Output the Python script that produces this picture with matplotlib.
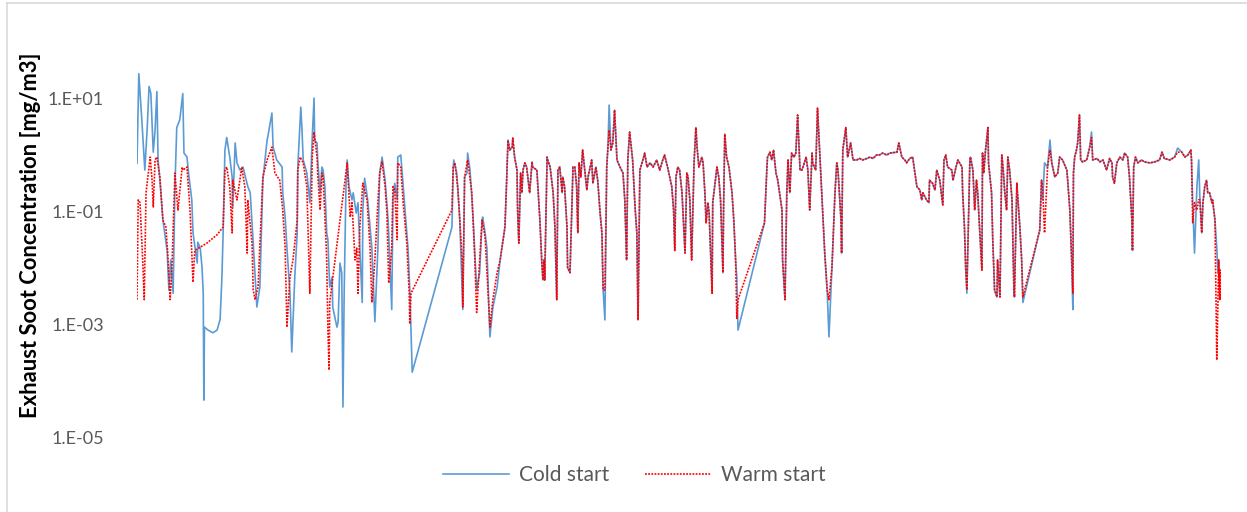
import matplotlib
matplotlib.use("Agg")
import matplotlib.pyplot as plt
from matplotlib.lines import Line2D

plt.rcParams['font.family'] = ['Lato', 'DejaVu Sans']

# ---- data: time [s] and exhaust soot concentration [mg/m3] ----
# part A: start of cycle (series differ)
cold_time_a = [0,3,5,8,13,17,20,23,27,30,
               33,35,38,43,46,50,53,56,60,63,
               66,71,76,78,83,86,91,93,100,101,
               105,108,110,111,112,118,126,133,138,141,
               143,146,149,154,158,159,163,166,171,176,
               184,188,193,199,204,209,216,217,224,226,
               232,241,242,246,249,254,257,262,266,267,
               272,274,276,282,287,291,294,295,299,300,
               304,307,309,312,315,317,320,324,325,332,
               334,337,340,342,344,347,349,352,357,359,
               364,367,370,374,375,378,383,390,395,400,
               403,407,412,417,423,425,428,432,433,438,
               442,448,450,453,457,523,525,526,531,536,
               541,544,548,549,553,558,564,569,573,574,
               578,581,586,591,598,603]
cold_soot_a = [0.70,27,13,4.1,0.53,3.0,16,12,1.1,2.7,
               13,0.80,0.35,0.069,0.041,0.020,0.0040,0.0136,0.0035,0.27,
               3.0,4.1,12,1.06,0.90,0.43,0.157,0.041,0.012,0.028,
               0.022,0.010,0.0035,4.5e-5,0.00088,0.00078,0.00070,0.00078,0.0012,0.0068,
               0.041,1.2,2.0,0.90,0.40,0.118,1.6,0.71,0.53,0.60,
               0.27,0.21,0.027,0.0020,0.0045,0.35,1.8,2.0,5.4,1.35,
               0.80,0.60,0.21,0.078,0.022,0.0035,0.00032,0.0068,0.041,0.60,
               6.9,2.7,0.80,0.47,0.14,2.0,10.0,1.8,1.6,0.80,
               0.21,0.60,0.53,0.27,0.041,0.031,0.0045,0.0068,0.0020,0.00088,
               0.0011,0.012,0.0081,3.4e-5,0.0035,0.27,0.80,0.27,0.157,0.21,
               0.092,0.14,0.022,0.0024,0.104,0.38,0.157,0.022,0.0011,0.022,
               0.47,0.90,0.35,0.069,0.0018,0.157,0.31,0.157,0.90,0.98,
               0.27,0.041,0.022,0.0040,0.00014,0.052,0.53,0.80,0.47,0.069,
               0.0018,0.40,0.47,1.06,0.53,0.078,0.0040,0.0081,0.069,0.078,
               0.041,0.022,0.00059,0.0020,0.0045,0.0136]

warm_time_a = [0,2,5,10,12,15,18,22,25,27,
               30,33,38,43,48,51,55,58,63,68,
               75,76,83,88,91,93,96,116,133,143,
               146,149,154,158,159,166,174,179,183,184,
               191,193,196,201,209,216,224,229,237,242,
               246,249,254,259,266,267,271,276,282,287,
               291,294,299,300,304,307,309,314,315,317,
               319,320,349,354,357,362,365,367,370,375,
               382,387,390,395,400,403,407,412,415,418,
               423,425,428,432,433,438,442,448,452,453,
               455,523,525,528,533,540,541,544,549,556,
               561,564,569,573,578,583,586,591,598,603]
warm_soot_a = [0.0027,0.157,0.14,0.010,0.0027,0.21,0.40,0.90,0.35,0.118,
               0.80,0.90,0.40,0.069,0.052,0.018,0.0027,0.010,0.47,0.104,
               0.60,0.53,0.60,0.104,0.018,0.0055,0.020,0.027,0.038,0.052,
               0.53,0.60,0.27,0.041,0.35,0.157,0.60,0.27,0.018,0.157,
               0.027,0.0040,0.0027,0.0045,0.40,0.80,1.35,0.47,0.35,0.104,
               0.022,0.00088,0.0068,0.0136,0.069,0.53,0.90,0.71,0.27,0.0035,
               0.90,2.5,0.90,0.47,0.104,0.47,0.40,0.027,0.0136,0.00078,
               0.000153,0.0024,0.71,0.078,0.14,0.0136,0.022,0.0035,0.052,0.31,
               0.157,0.022,0.0024,0.0136,0.14,0.47,0.74,0.27,0.092,0.0053,
               0.022,0.27,0.235,0.031,0.71,0.60,0.14,0.027,0.0035,0.0010,
               0.0035,0.104,0.60,0.71,0.235,0.0136,0.0020,0.40,0.80,0.21,
               0.0136,0.0016,0.0136,0.069,0.035,0.0035,0.00088,0.0027,0.0081,0.0136]

# part B: rest of cycle, same sample times for both series
time_b = [608,611,614,616,619,623,624,627,631,632,
          634,637,639,641,644,647,652,656,657,664,
          669,672,674,676,677,681,682,686,691,694,
          697,699,702,706,707,710,714,715,719,722,
          724,727,730,732,734,737,740,744,747,749,
          755,757,762,765,769,772,774,777,780,782,
          784,787,790,793,797,802,807,810,813,815,
          818,823,827,830,832,835,840,843,847,852,
          857,863,868,873,876,881,888,891,893,895,
          898,901,905,910,913,915,918,921,925,928,
          930,933,938,940,943,945,948,950,955,956,
          963,966,969,973,974,976,979,983,988,991,
          994,996,998,1042,1046,1047,1051,1054,1057,1061,
          1064,1071,1072,1076,1079,1081,1084,1087,1091,1094,
          1097,1101,1104,1106,1111,1114,1117,1121,1122,1127,
          1130,1134,1137,1139,1142,1146,1149,1154,1159,1162,
          1164,1169,1170,1172,1177,1180,1185,1189,1195,1200,
          1205,1212,1217,1222,1228,1233,1238,1245,1250,1262,
          1265,1270,1275,1278,1283,1288,1291,1295,1300,1303,
          1305,1311,1315,1316,1321,1325,1328,1333,1338,1340,
          1343,1346,1353,1355,1360,1363,1370,1371,1374,1376,
          1378,1383,1384,1388,1391,1394,1396,1399,1403,1404,
          1406,1409,1413,1414,1419,1421,1424,1428,1429,1433,
          1436,1438,1441,1444,1446,1449,1453,1456,1457,1461,
          1462,1466,1469,1471,1499,1502,1504,1507,1512,1516,
          1519,1524,1529,1532,1537,1544,1545,1549,1552,1554,
          1555,1557,1560,1562,1565,1567,1570,1577,1582,1585,
          1587,1594,1599,1604,1610,1615,1619,1620,1623,1627,
          1632,1637,1640,1645,1648,1652,1653,1655,1658,1662,
          1668,1673,1682,1690,1698,1702,1706,1715,1723,1728,
          1735,1740,1745,1750,1751,1753,1756,1760,1763,1765,
          1768,1770,1773,1776,1778,1781,1785,1786,1790,1793,
          1795,1796,1798]
cold_soot_b = [0.031,0.052,0.40,1.8,1.2,1.35,1.95,0.90,0.53,0.104,
               0.027,0.47,0.21,0.53,0.71,0.60,0.21,0.74,0.60,0.53,
               0.069,0.0136,0.0060,0.0136,0.0060,0.90,0.80,0.60,0.21,0.052,
               0.0027,0.53,0.60,0.21,0.40,0.27,0.052,0.010,0.0081,0.104,
               0.60,0.60,0.27,0.041,0.71,0.40,1.2,0.47,0.235,0.40,
               0.80,0.31,0.60,0.35,0.092,0.041,0.0040,0.00118,0.60,1.35,
               7.5,1.2,1.6,6.1,0.80,0.60,0.47,0.157,0.0136,0.80,
               2.5,0.80,0.118,0.041,0.00118,0.53,0.80,1.06,0.60,0.71,
               0.60,0.80,0.53,0.80,0.98,0.60,0.27,0.104,0.020,0.40,
               0.60,0.53,0.21,0.018,0.47,0.40,0.157,0.0136,0.71,3.0,
               1.35,0.60,0.90,0.71,0.21,0.062,0.14,0.092,0.0035,0.14,
               0.60,0.40,0.157,0.0081,0.104,2.3,0.90,0.60,0.21,0.069,
               0.0136,0.0068,0.00078,0.062,0.60,0.90,1.1,0.80,1.2,0.47,
               0.35,0.104,0.0136,0.0027,0.21,0.80,0.21,1.06,0.90,1.06,
               5.0,0.53,0.53,0.60,0.90,0.53,0.104,1.06,0.71,0.53,
               6.6,0.90,0.21,0.069,0.018,0.0040,0.00059,0.010,0.21,0.71,
               0.53,0.069,0.018,1.2,3.0,0.90,1.6,0.80,0.80,0.85,
               0.80,0.85,0.90,0.85,0.98,0.98,1.06,0.98,1.06,1.1,
               1.6,0.90,0.80,0.71,0.85,0.90,0.53,0.27,0.235,0.157,
               0.21,0.157,0.14,0.35,0.31,0.235,0.53,0.35,0.128,0.80,
               0.98,0.60,0.53,0.35,0.60,0.80,0.60,0.21,0.052,0.010,
               0.0035,0.80,0.90,0.53,0.104,0.35,0.21,0.052,0.0090,1.06,
               0.47,1.2,3.0,0.71,0.21,0.031,0.0040,0.0030,0.0136,0.0030,
               0.98,0.60,0.21,0.104,0.90,0.53,0.157,0.0045,0.0030,0.31,
               0.21,0.052,0.0136,0.0024,0.046,0.35,0.157,0.71,0.60,1.8,
               0.71,0.40,0.47,0.90,0.80,0.53,0.40,0.104,0.0136,0.0018,
               0.47,0.90,1.2,1.6,5.0,0.80,0.74,0.80,1.35,2.5,
               0.80,0.85,0.74,0.80,0.53,0.85,0.71,0.40,0.31,0.71,
               0.90,0.80,1.06,0.90,0.40,0.069,0.020,0.60,0.90,0.71,
               0.80,0.74,0.71,0.74,0.80,1.1,0.85,0.80,0.90,1.3,
               1.1,0.90,0.98,1.2,0.80,0.14,0.018,0.27,0.80,0.157,
               0.041,0.14,0.27,0.35,0.21,0.21,0.14,0.157,0.069,0.022,
               0.0081,0.0136,0.0068]
warm_soot_b = [0.031,0.052,0.40,1.8,1.2,1.35,1.95,0.90,0.53,0.104,
               0.027,0.47,0.21,0.53,0.71,0.60,0.21,0.74,0.60,0.53,
               0.069,0.0136,0.0060,0.0136,0.0060,0.90,0.80,0.60,0.21,0.052,
               0.0027,0.53,0.60,0.21,0.40,0.27,0.052,0.010,0.0081,0.104,
               0.60,0.60,0.27,0.041,0.71,0.40,1.2,0.47,0.235,0.40,
               0.80,0.31,0.60,0.35,0.092,0.041,0.0040,0.0040,0.60,1.35,
               2.7,1.2,1.6,6.1,0.80,0.60,0.47,0.157,0.0136,0.80,
               2.5,0.80,0.118,0.041,0.00118,0.53,0.80,1.06,0.60,0.71,
               0.60,0.80,0.53,0.80,0.98,0.60,0.27,0.104,0.020,0.40,
               0.60,0.53,0.21,0.018,0.47,0.40,0.157,0.0136,0.71,3.0,
               1.35,0.60,0.90,0.71,0.21,0.062,0.14,0.092,0.0035,0.14,
               0.60,0.40,0.157,0.0081,0.104,2.3,0.90,0.60,0.21,0.069,
               0.0136,0.00126,0.0027,0.062,0.60,0.90,1.1,0.80,1.2,0.47,
               0.35,0.104,0.0136,0.0027,0.21,0.80,0.21,1.06,0.90,1.06,
               5.0,0.53,0.53,0.60,0.90,0.53,0.104,1.06,0.71,0.53,
               6.6,0.90,0.21,0.069,0.018,0.0040,0.0027,0.010,0.21,0.71,
               0.53,0.069,0.018,1.2,3.0,0.90,1.6,0.80,0.80,0.85,
               0.80,0.85,0.90,0.85,0.98,0.98,1.06,0.98,1.06,1.1,
               1.6,0.90,0.80,0.71,0.85,0.90,0.53,0.27,0.235,0.157,
               0.21,0.157,0.14,0.35,0.31,0.235,0.53,0.35,0.128,0.80,
               0.98,0.60,0.53,0.35,0.60,0.80,0.60,0.21,0.052,0.010,
               0.0040,0.80,0.90,0.53,0.104,0.35,0.21,0.052,0.0090,1.06,
               0.47,1.2,3.0,0.71,0.21,0.031,0.0040,0.0030,0.0136,0.0030,
               0.98,0.60,0.21,0.104,0.90,0.53,0.157,0.0045,0.0030,0.31,
               0.21,0.052,0.0136,0.0030,0.046,0.35,0.23,0.041,0.60,1.2,
               0.71,0.40,0.47,0.90,0.80,0.53,0.40,0.104,0.0136,0.0035,
               0.47,0.90,1.2,1.6,5.0,0.80,0.74,0.80,1.35,2.0,
               0.80,0.85,0.74,0.80,0.53,0.85,0.71,0.40,0.31,0.71,
               0.90,0.80,1.06,0.90,0.40,0.069,0.020,0.60,0.90,0.71,
               0.80,0.74,0.71,0.74,0.80,1.1,0.85,0.80,0.90,1.1,
               1.1,0.90,0.98,1.2,0.80,0.062,0.14,0.104,0.157,0.157,
               0.041,0.14,0.27,0.35,0.21,0.21,0.14,0.157,0.069,0.00023,
               0.0027,0.0136,0.0027]
# part C: warm-start tail
warm_time_c = [1799, 1800]
warm_soot_c = [0.0090, 0.0027]

series_labels = ["Cold start", "Warm start"]
ytick_values = [1e-5, 1e-3, 1e-1, 1e1]
ytick_labels = ["1.E-05", "1.E-03", "1.E-01", "1.E+01"]
y_label = "Exhaust Soot Concentration [mg/m3]"

cold_time = cold_time_a + time_b
cold_soot = cold_soot_a + cold_soot_b
warm_time = warm_time_a + time_b + warm_time_c
warm_soot = warm_soot_a + warm_soot_b + warm_soot_c

# ---- figure ----
W, H = 1247, 512
fig = plt.figure(figsize=(W / 100, H / 100), dpi=100)
fig.patch.set_facecolor("white")

# light frame (top and left edges visible)
fig.add_artist(Line2D([7 / W, 7 / W], [0, 1 - 3 / H], transform=fig.transFigure,
                      color="#D9D9D9", lw=1.2))
fig.add_artist(Line2D([7 / W, 1], [1 - 3 / H, 1 - 3 / H], transform=fig.transFigure,
                      color="#D9D9D9", lw=1.2))

ax = fig.add_axes([137 / W, 1 - 437 / H, (1221 - 137) / W, (437 - 41.5) / H])
blue = "#5B9BD5"
red = "#FF0000"
dot = (0, (1.1, 0.8))
ax.plot(cold_time, cold_soot, color=blue, lw=1.2, label=series_labels[0], zorder=2)
ax.plot(warm_time, warm_soot, color=red, lw=1.2, linestyle=dot,
        label=series_labels[1], zorder=3)

ax.set_yscale("log")
ax.set_ylim(1e-5, 1e2)
ax.set_xlim(0, 1800)
ax.set_yticks(ytick_values)
ax.set_yticklabels(ytick_labels)
ax.yaxis.set_minor_locator(matplotlib.ticker.NullLocator())
ax.set_xticks([])
ax.tick_params(axis="y", length=0, pad=24, labelsize=13, labelcolor="#595959")
for s in ax.spines.values():
    s.set_visible(False)

fig.text(31 / W, 1 - 235 / H, y_label, rotation=90, ha="center", va="center",
         fontsize=15.8, fontweight="bold", color="black")

handles = [Line2D([], [], color=blue, lw=1.2),
           Line2D([], [], color=red, lw=1.2, linestyle=dot)]
fig.legend(handles, series_labels, loc="center", bbox_to_anchor=(634 / W, 1 - 475 / H),
           ncol=2, frameon=False, fontsize=15, labelcolor="#595959",
           handlelength=3.2, handletextpad=0.45, columnspacing=1.7)

fig.savefig("out.png", dpi=100, facecolor="white")
